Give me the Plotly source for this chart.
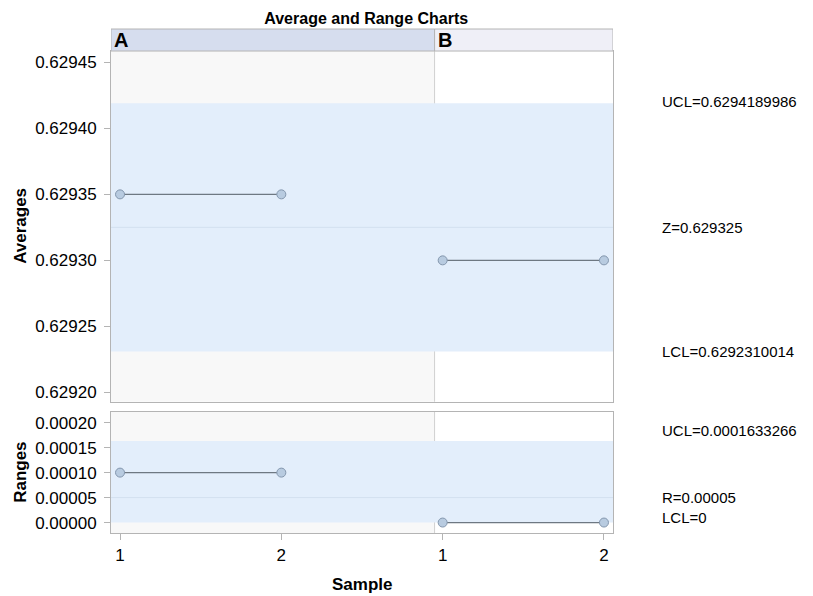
import plotly.graph_objects as go
from plotly.subplots import make_subplots

# phases and samples
phases = ["A", "B"]
samples = ["1", "2", "1", "2"]
sample_pos = [1, 2, 3, 4]

# sample averages / ranges per phase
avg_a = [0.62935, 0.62935]
avg_b = [0.62930, 0.62930]
rng_a = [0.00010, 0.00010]
rng_b = [0.0, 0.0]

# control limits
avg_ucl, avg_center, avg_lcl = 0.6294189986, 0.629325, 0.6292310014
rng_ucl, rng_center, rng_lcl = 0.0001633266, 0.00005, 0.0
avg_labels = ["UCL=0.6294189986", "Z=0.629325", "LCL=0.6292310014"]
rng_labels = ["UCL=0.0001633266", "R=0.00005", "LCL=0"]

avg_ticks = [0.62920, 0.62925, 0.62930, 0.62935, 0.62940, 0.62945]
rng_ticks = [0.0, 0.00005, 0.00010, 0.00015, 0.00020]

split = 2.95  # boundary between phase A and B
xmin, xmax = 0.944, 4.056

fig = make_subplots(rows=2, cols=1, shared_xaxes=True, vertical_spacing=0.02,
                    row_heights=[0.74, 0.26])

font = "Liberation Sans, Arial, sans-serif"
band = "#e3eefb"
grey_bg = "#f8f8f8"

line_style = dict(color="#6e7882", width=1.3)
marker_style = dict(size=9, color="#b8cbe0", line=dict(color="#8396ad", width=1))

# data traces, one segment per phase
for row, (ya, yb) in enumerate([(avg_a, avg_b), (rng_a, rng_b)], start=1):
    fig.add_trace(go.Scatter(x=sample_pos[:2], y=ya, mode="lines+markers",
                             line=line_style, marker=marker_style, showlegend=False), row=row, col=1)
    fig.add_trace(go.Scatter(x=sample_pos[2:], y=yb, mode="lines+markers",
                             line=line_style, marker=marker_style, showlegend=False), row=row, col=1)

# backgrounds, bands, center lines, limit labels
limits = [(avg_lcl, avg_center, avg_ucl, avg_labels, [2, 0, 0], "x", "y", "y domain"),
          (rng_lcl, rng_center, rng_ucl, rng_labels, [10, 0, 5], "x2", "y2", "y2 domain")]
for lcl, center, ucl, labels, nudges, xr, yr, yd in limits:
    fig.add_shape(type="rect", xref=xr, yref=yd, x0=xmin, x1=split, y0=0, y1=1,
                  fillcolor=grey_bg, line_width=0, layer="below")
    fig.add_shape(type="rect", xref=xr, yref=yr, x0=xmin, x1=xmax, y0=lcl, y1=ucl,
                  fillcolor=band, line_width=0, layer="below")
    fig.add_shape(type="line", xref=xr, yref=yr, x0=xmin, x1=xmax, y0=center, y1=center,
                  line=dict(color="#d3e0ef", width=1), layer="below")
    fig.add_shape(type="line", xref=xr, yref=yd, x0=split, x1=split, y0=0, y1=1,
                  line=dict(color="#d0d0d0", width=1), layer="below")
    for val, txt, dy in zip([ucl, center, lcl], labels, nudges):
        fig.add_annotation(xref="paper", yref=yr, x=1.0936, y=val, text=txt, showarrow=False,
                           xanchor="left", yanchor="middle", yshift=dy,
                           font=dict(size=15, color="black"))

# phase header band
y_top = 0.9563
for ph, x0, x1, col in [(phases[0], xmin, split, "#d6ddee"),
                        (phases[1], split, xmax, "#efeff7")]:
    fig.add_shape(type="rect", xref="x", yref="paper", x0=x0, x1=x1, y0=y_top, y1=1.0,
                  fillcolor=col, line=dict(color="#b4b4b4", width=1))
    fig.add_annotation(xref="x", yref="paper", x=x0, y=(y_top + 1) / 2, text="<b>%s</b>" % ph,
                       showarrow=False, xanchor="left", yanchor="middle", xshift=1,
                       font=dict(size=20, color="black"))

# axis titles placed by hand
fig.add_annotation(xref="paper", yref="paper", x=0, xshift=-102, y=(0.2605 + 0.9563) / 2,
                   text="<b>Averages</b>", textangle=-90, showarrow=False,
                   xanchor="left", yanchor="middle", font=dict(size=17))
fig.add_annotation(xref="paper", yref="paper", x=0, xshift=-102, y=0.2407 / 2,
                   text="<b>Ranges</b>", textangle=-90, showarrow=False,
                   xanchor="left", yanchor="middle", font=dict(size=17))
fig.add_annotation(xref="paper", yref="paper", x=0.5, y=0, yshift=-51,
                   text="<b>Sample</b>", showarrow=False,
                   xanchor="center", yanchor="middle", font=dict(size=17))

axis_common = dict(showline=True, linecolor="#b4b4b4", mirror=True, showgrid=False,
                   zeroline=False, ticks="outside", ticklen=6, tickcolor="#b4b4b4",
                   tickfont=dict(size=17, color="black"))

fig.update_xaxes(range=[xmin, xmax], tickvals=sample_pos, ticktext=samples,
                 ticklabelstandoff=1, **axis_common)
fig.update_xaxes(showticklabels=False, ticks="", row=1, col=1)

fig.update_yaxes(range=[0.6291929, 0.6294586], tickvals=avg_ticks,
                 ticktext=["%.5f" % v for v in avg_ticks], ticklabelstandoff=4,
                 row=1, col=1, **axis_common)
fig.update_yaxes(range=[-0.0000209, 0.000222], tickvals=rng_ticks,
                 ticktext=["%.5f" % v for v in rng_ticks], ticklabelstandoff=4,
                 row=2, col=1, **axis_common)

# page body adds an 8px margin, so the figure is drawn 8px smaller
fig.update_layout(
    width=805, height=588,
    margin=dict(l=103, r=200, t=21, b=63),
    title=dict(text="<b>Average and Range Charts</b>", x=0.445, xanchor="center",
               y=0.983, yref="container", yanchor="middle",
               font=dict(size=16, color="black")),
    font=dict(family=font, color="black"),
    plot_bgcolor="white", paper_bgcolor="white",
)
fig.layout.yaxis.domain = [0.2605, 0.9563]
fig.layout.yaxis2.domain = [0.0, 0.2407]

fig.write_html("out.html")
